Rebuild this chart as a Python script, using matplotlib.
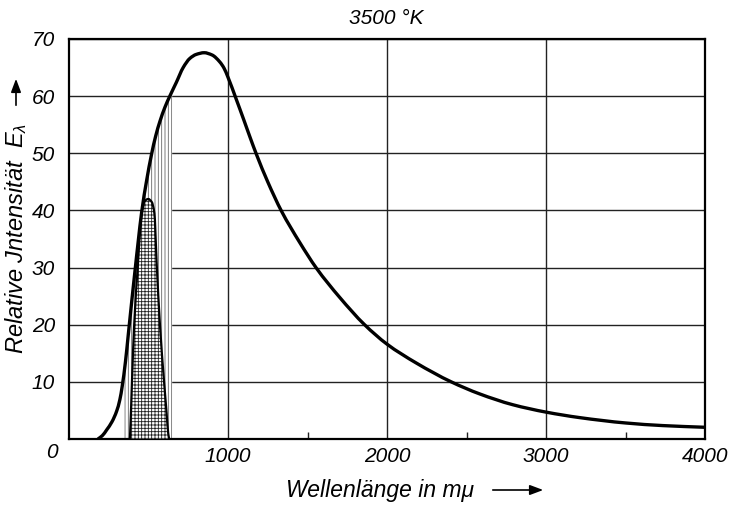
import numpy as np
import matplotlib.pyplot as plt
from matplotlib.path import Path
from matplotlib.patches import PathPatch, FancyArrowPatch

plt.rcParams['font.family'] = ['Liberation Sans', 'DejaVu Sans']
plt.rcParams['font.style'] = 'italic'
plt.rcParams['mathtext.fontset'] = 'custom'
plt.rcParams['mathtext.it'] = 'Liberation Sans:italic'
plt.rcParams['mathtext.rm'] = 'Liberation Sans:italic'
plt.rcParams['hatch.linewidth'] = 0.6

# black body curve at 3500 K
lam = [182, 210, 237, 270, 300, 320, 335, 355, 373, 395, 415, 435, 457, 488,
       519, 545, 572, 604, 634, 675, 718, 760, 800, 850, 900, 948, 975,
       1000, 1050, 1100, 1140, 1179, 1250, 1336, 1451, 1556, 1702, 1859,
       2000, 2184, 2404, 2582, 2791, 3001, 3210, 3503, 3733, 4000]
E = [0, 0.6, 1.6, 3.0, 4.9, 6.9, 9.3, 13.5, 18.3, 24.2, 29.4, 34.5, 39.7, 45.2,
     49.8, 53.0, 55.6, 58.1, 60.0, 62.4, 65.0, 66.6, 67.3, 67.6, 67.2, 66.0, 64.9,
     63.3, 59.6, 55.8, 52.7, 49.8, 45.0, 39.9, 34.4, 29.9, 24.8, 20.0,
     16.6, 13.3, 10.0, 7.9, 6.0, 4.7, 3.75, 2.8, 2.35, 2.05]

# visible band (vertical hatching)
vis_lo, vis_hi = 347, 649

# eye-weighted curve (cross hatching)
lam_eye = [383, 390, 396, 410, 432, 457, 475, 498, 520, 537, 551, 572, 598, 614, 624, 630]
E_eye = [0, 5, 10, 20, 30, 39.5, 41.6, 42, 41.5, 39.5, 31, 20, 10, 4.5, 1, 0]


def smooth_path(x, y, closed_to_base=False):
    # piecewise cubic through the points (x increasing), as Bezier segments
    x = np.asarray(x, float)
    y = np.asarray(y, float)
    h = np.diff(x)
    d = np.diff(y) / h
    m = np.empty_like(y)
    m[0], m[-1] = d[0], d[-1]
    for i in range(1, len(x) - 1):
        if d[i - 1] * d[i] <= 0:
            m[i] = 0.0
        else:
            w1, w2 = 2 * h[i] + h[i - 1], h[i] + 2 * h[i - 1]
            m[i] = (w1 + w2) / (w1 / d[i - 1] + w2 / d[i])
    verts = [(x[0], y[0])]
    codes = [Path.MOVETO]
    for i in range(len(x) - 1):
        verts += [(x[i] + h[i] / 3, y[i] + m[i] * h[i] / 3),
                  (x[i + 1] - h[i] / 3, y[i + 1] - m[i + 1] * h[i] / 3),
                  (x[i + 1], y[i + 1])]
        codes += [Path.CURVE4] * 3
    if closed_to_base:
        verts += [(x[-1], 0), (x[0], 0), (x[0], 0)]
        codes += [Path.LINETO, Path.LINETO, Path.CLOSEPOLY]
    return Path(verts, codes)


fig = plt.figure(figsize=(7.29, 5.05), dpi=100)
ax = fig.add_axes([69/729, 66/505, 636/729, 400/505])

x_v = np.linspace(vis_lo, vis_hi, 300)
y_v = np.interp(x_v, lam, E)
ax.fill_between(x_v, 0, y_v, facecolor='white', edgecolor='#666666',
                hatch='|||||', linewidth=0, zorder=2)
ax.add_patch(PathPatch(smooth_path(lam_eye, E_eye, True), facecolor='white',
                       edgecolor='#222222', hatch='+++++', linewidth=0, zorder=3))
ax.add_patch(PathPatch(smooth_path(lam_eye, E_eye), facecolor='none',
                       edgecolor='black', lw=1.6, zorder=4))
ax.add_patch(PathPatch(smooth_path(lam, E), facecolor='none',
                       edgecolor='black', lw=2.4, zorder=5))

ax.set_xlim(0, 4000)
ax.set_ylim(0, 70)
ax.set_xticks([1000, 2000, 3000, 4000])
ax.set_yticks([10, 20, 30, 40, 50, 60, 70])
ax.set_xticks([500, 1500, 2500, 3500], minor=True)
ax.grid(True, which='major', color='#222222', lw=1.0)
ax.tick_params(which='major', length=0, labelsize=15, pad=6)
ax.tick_params(axis='y', pad=10)
ax.tick_params(which='minor', direction='in', length=5, width=1, color='#222222')
for s in ax.spines.values():
    s.set_linewidth(1.6)

ax.text(-0.027, -0.035, '0', transform=ax.transAxes, fontsize=15,
        ha='center', va='center')

fig.text(386/729, 1 - 18/505, '3500 °K', fontsize=15, ha='center', va='center')
fig.text(380/729, 1 - 490/505, 'Wellenlänge in mμ', fontsize=16.5,
         ha='center', va='center')
fig.text(16/729, 1 - 238/505, r'Relative Jntensität  $E_\lambda$', fontsize=17,
         ha='center', va='center', rotation=90)

fig.patches.append(FancyArrowPatch(
    (490/729, 1 - 490/505), (546/729, 1 - 490/505), transform=fig.transFigure,
    arrowstyle='-|>,head_length=8,head_width=3', lw=1.2, color='black'))
fig.patches.append(FancyArrowPatch(
    (16/729, 1 - 108/505), (16/729, 1 - 76/505), transform=fig.transFigure,
    arrowstyle='-|>,head_length=8,head_width=3', lw=1.2, color='black'))

fig.savefig('out.png', dpi=100)
